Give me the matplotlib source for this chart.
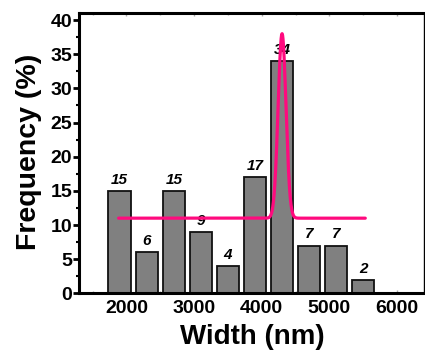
import numpy as np
import matplotlib
matplotlib.use("Agg")
import matplotlib.pyplot as plt
from matplotlib.ticker import MultipleLocator

centers = [1900, 2300, 2700, 3100, 3500, 3900, 4300, 4700, 5100, 5500]
freqs = [15, 6, 15, 9, 4, 17, 34, 7, 7, 2]
xticks = [2000, 3000, 4000, 5000, 6000]
yticks = [0, 5, 10, 15, 20, 25, 30, 35, 40]

# Gaussian fit parameters
fit_y0 = 11.0
fit_height = 27.0
fit_xc = 4300.0
fit_sigma = 58.0
fit_range = (1885, 5530)

plt.rcParams['font.family'] = ['Liberation Sans', 'DejaVu Sans']
fig = plt.figure(figsize=(4.25, 3.56), dpi=100)
ax = fig.add_axes([0.186, 0.176, 0.812, 0.787])

ax.bar(centers, freqs, width=330, color='#808080', edgecolor='#111111', linewidth=1.3, zorder=2)
for c, f in zip(centers, freqs):
    ax.annotate(str(f), (c, f), xytext=(0, 3), textcoords='offset points',
                ha='center', va='bottom', fontsize=11, fontweight='bold', fontstyle='italic', zorder=3)

xf = np.linspace(fit_range[0], fit_range[1], 2000)
yf = fit_y0 + fit_height * np.exp(-(xf - fit_xc) ** 2 / (2 * fit_sigma ** 2))
ax.plot(xf, yf, color='#FF0A7E', linewidth=2.3, solid_capstyle='round', zorder=4)

ax.set_xlim(1300, 6400)
ax.set_ylim(0, 41)
ax.set_xticks(xticks)
ax.set_yticks(yticks)
ax.yaxis.set_minor_locator(MultipleLocator(2.5))
ax.xaxis.set_minor_locator(MultipleLocator(500))

for s in ['left', 'bottom', 'top']:
    ax.spines[s].set_linewidth(2.2)
ax.spines['right'].set_linewidth(1.0)

ax.tick_params(axis='y', which='major', direction='out', length=4, width=2, labelsize=14, pad=1)
ax.tick_params(axis='y', which='minor', direction='out', length=2.5, width=1.5)
ax.tick_params(axis='x', which='major', direction='in', length=2, width=1, color='#aaaaaa', labelsize=14, pad=5, top=True)
ax.tick_params(axis='x', which='minor', direction='in', length=1.5, width=1, color='#aaaaaa', top=True)
for lab in ax.get_xticklabels() + ax.get_yticklabels():
    lab.set_fontweight('bold')

ax.set_xlabel('Width (nm)', fontsize=20, fontweight='bold')
ax.set_ylabel('Frequency (%)', fontsize=20.5, fontweight='bold')
ax.xaxis.set_label_coords(0.503, -0.157)
ax.yaxis.set_label_coords(-0.145, 0.505)
ax.xaxis.label.set_va('center')
ax.yaxis.label.set_va('center')

fig.savefig('out.png', dpi=100)
